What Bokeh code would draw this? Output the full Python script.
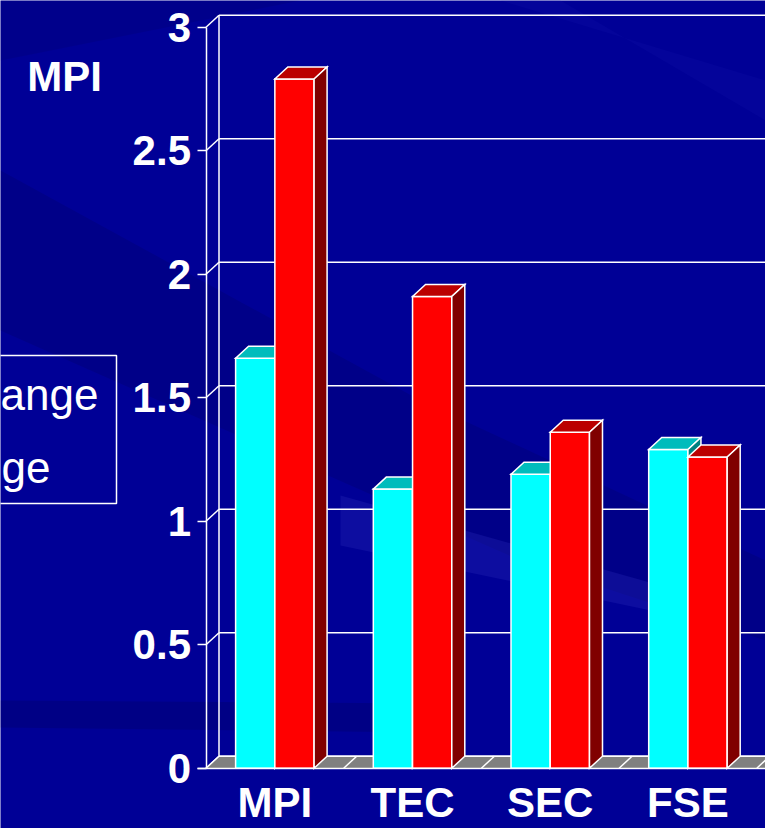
from bokeh.plotting import figure
from bokeh.models import LinearAxis, FixedTicker, Range1d
from bokeh.core.properties import value
from bokeh.embed import file_html
from bokeh.resources import INLINE

# ---- data -------------------------------------------------------------
categories = ["MPI", "TEC", "SEC", "FSE"]
series_cyan = [1.66, 1.13, 1.19, 1.29]
series_red = [2.79, 1.91, 1.36, 1.26]
y_ticks = [0, 0.5, 1, 1.5, 2, 2.5, 3]
legend_fragments = ["ange", "ge"]
title_text = "MPI"

# ---- page geometry ------------------------------------------------------
W, H = 765, 828
X0_PX, CAT_PX = 205.5, 137.7     # screen x of category 0 and width of one category
Y0_PX, UNIT_PX = 767.7, 247.0    # screen y of value 0 and pixels per unit


def xd(px):
    return (px - X0_PX) / CAT_PX


def yd(py):
    return (Y0_PX - py) / UNIT_PX


DX = 13 / CAT_PX      # depth offset of the 3-D box, horizontal
DY = 12 / UNIT_PX     # depth offset of the 3-D box, vertical
X_END = xd(W) + 0.2

BG = "#000096"
FONT = "Liberation Sans"
LABEL_SIZE = "42px"

p = figure(width=W, height=H,
           x_range=Range1d(xd(0), xd(W)), y_range=Range1d(yd(H), yd(0)),
           x_axis_type=None, y_axis_type=None,
           toolbar_location=None, output_backend="svg", min_border=0,
           background_fill_color=BG, border_fill_color=BG,
           outline_line_color=None)

# ---- slide background bands ----------------------------------------------
def band(pts, color, alpha):
    p.patch([xd(a) for a, b in pts], [yd(b) for a, b in pts],
            fill_color=color, fill_alpha=alpha, line_color=None)

band([(0, 170), (0, 330), (520, 560), (765, 640), (765, 560), (420, 400)], "#000050", 0.2)
band([(0, 0), (0, 60), (300, 0)], "#000050", 0.15)
band([(500, 0), (560, 0), (765, 120), (765, 80)], "#1a1ab4", 0.15)
band([(340, 495), (660, 585), (660, 612), (340, 545)], "#2a2ab8", 0.3)
band([(0, 700), (430, 703), (430, 732), (0, 727)], "#000060", 0.3)

# ---- walls, gridlines and floor ------------------------------------------
WHITE = "white"
LW = 1.5
for t in y_ticks:
    p.segment(x0=[0], y0=[t], x1=[DX], y1=[t + DY], line_color=WHITE, line_width=LW)
    p.segment(x0=[DX], y0=[t + DY], x1=[X_END], y1=[t + DY], line_color=WHITE, line_width=LW)
p.segment(x0=[DX], y0=[DY], x1=[DX], y1=[y_ticks[-1] + DY], line_color=WHITE, line_width=LW)

p.patch([0, X_END, X_END, DX], [0, 0, DY, DY], fill_color="#808080", line_color=None)
n = len(categories)
p.segment(x0=list(range(n + 1)), y0=[0] * (n + 1),
          x1=[k + DX for k in range(n + 1)], y1=[DY] * (n + 1),
          line_color=WHITE, line_width=LW)
p.segment(x0=[DX], y0=[DY], x1=[X_END], y1=[DY], line_color=WHITE, line_width=LW)

# ---- 3-D bars ------------------------------------------------------------
BAR_W = 0.285
faces = {
    "cyan": ("#00ffff", "#00bcbc", "#008080"),
    "red": ("#ff0000", "#bb0000", "#800000"),
}


def bar_faces(left, v):
    right = left + BAR_W
    front = ([left, right, right, left], [0, 0, v, v])
    top = ([left, right, right + DX, left + DX], [v, v, v + DY, v + DY])
    side = ([right, right + DX, right + DX, right], [0, DY, v + DY, v])
    return front, top, side


for i in range(n):
    for vals, key, left in ((series_cyan, "cyan", i + 0.5 - BAR_W),
                            (series_red, "red", i + 0.5)):
        for (xs, ys), col in zip(bar_faces(left, vals[i]), faces[key]):
            p.patch(xs, ys, fill_color=col, line_color=WHITE, line_width=LW,
                    line_join="miter")

# ---- axes ----------------------------------------------------------------
yax = LinearAxis(ticker=FixedTicker(ticks=y_ticks),
                 major_label_overrides={t: f"{t:g}" for t in y_ticks},
                 fixed_location=0, bounds=(0, y_ticks[-1]),
                 axis_line_color=WHITE, axis_line_width=LW,
                 major_tick_line_color=WHITE, major_tick_line_width=LW,
                 major_tick_out=9, major_tick_in=0, minor_tick_line_color=None,
                 major_label_text_color=WHITE, major_label_text_font=FONT,
                 major_label_text_font_style="bold",
                 major_label_text_font_size=LABEL_SIZE, major_label_standoff=6)
p.add_layout(yax, "left")

xax = LinearAxis(ticker=FixedTicker(ticks=[i + 0.5 for i in range(n)]),
                 major_label_overrides={i + 0.5: c for i, c in enumerate(categories)},
                 fixed_location=0, bounds=(xd(197), X_END),
                 axis_line_color=WHITE, axis_line_width=LW,
                 major_tick_line_color=None, major_tick_out=0, major_tick_in=0,
                 minor_tick_line_color=None,
                 major_label_text_color=WHITE, major_label_text_font=FONT,
                 major_label_text_font_style="bold",
                 major_label_text_font_size=LABEL_SIZE, major_label_standoff=11)
p.add_layout(xax, "below")

# ---- title and legend ----------------------------------------------------
p.text(x=[xd(64)], y=[yd(76)], text=[title_text], text_align="center",
       text_baseline="alphabetic", text_font=value(FONT),
       text_font_style="bold", text_font_size=LABEL_SIZE, text_color=WHITE)

p.quad(left=[xd(-10)], right=[xd(116)], top=[yd(355)], bottom=[yd(503)],
       fill_color=None, line_color=WHITE, line_width=LW)
p.text(x=[xd(98), xd(1)], y=[yd(394), yd(467)], text=legend_fragments,
       text_align=["right", "left"], text_baseline="alphabetic",
       text_font=value(FONT), text_font_size="44px",
       text_color=WHITE)

open("out.html", "w").write(file_html(p, INLINE))
